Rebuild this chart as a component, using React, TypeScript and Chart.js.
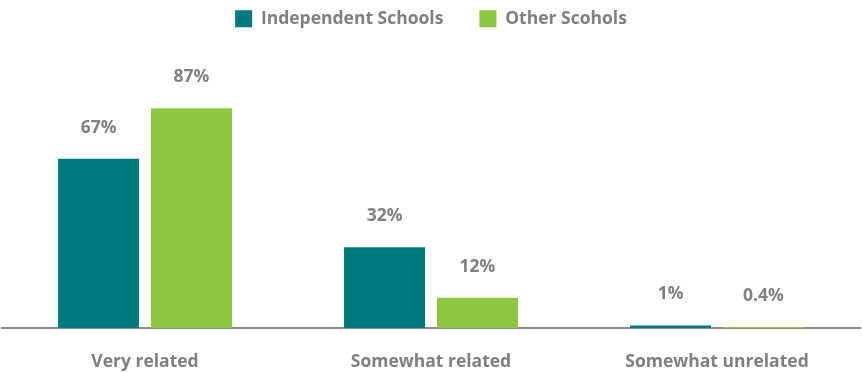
import React, { useEffect, useRef } from "react";
import { Chart, registerables } from "chart.js";

Chart.register(...registerables);

const categories = ["Very related", "Somewhat related", "Somewhat unrelated"];
const seriesNames = ["Independent Schools", "Other Scohols"];
const independentValues = [67, 32, 1];
const otherValues = [87, 12, 0.4];

const TEAL = "#007980";
const GREEN = "#8DC63F";
const GREY_TEXT = "#808080";
const AXIS_GREY = "#8C8C8C";
const FONT = "'Open Sans', Lato, sans-serif";
const FONT_SIZE = 17.5;

const dataLabelPlugin = {
  id: "dataLabels",
  afterDatasetsDraw(chart: any) {
    const { ctx } = chart;
    ctx.save();
    ctx.font = `bold ${FONT_SIZE}px ${FONT}`;
    ctx.fillStyle = GREY_TEXT;
    ctx.textAlign = "center";
    ctx.textBaseline = "middle";
    chart.data.datasets.forEach((ds: any, di: number) => {
      const meta = chart.getDatasetMeta(di);
      meta.data.forEach((bar: any, i: number) => {
        const v = ds.data[i];
        ctx.fillText(`${v}%`, bar.x, bar.y - 31);
      });
    });
    ctx.restore();
  },
};

export default function App() {
  const ref = useRef<HTMLCanvasElement>(null);
  useEffect(() => {
    if (!ref.current) return;
    const chart = new Chart(ref.current, {
      type: "bar",
      data: {
        labels: categories,
        datasets: [
          {
            label: seriesNames[0],
            data: independentValues,
            backgroundColor: TEAL,
            categoryPercentage: 0.65,
            barPercentage: 0.871,
          },
          {
            label: seriesNames[1],
            data: otherValues,
            backgroundColor: GREEN,
            categoryPercentage: 0.65,
            barPercentage: 0.871,
          },
        ],
      },
      options: {
        animation: false,
        responsive: false,
        maintainAspectRatio: false,
        layout: { padding: { top: -26, left: 2, right: 2, bottom: -24 } },
        plugins: {
          legend: {
            display: true,
            position: "top",
            labels: {
              boxWidth: 17,
              boxHeight: 17,
              padding: 36,
              color: GREY_TEXT,
              font: { family: FONT, size: FONT_SIZE, weight: "bold" },
            },
          },
          tooltip: { enabled: false },
        },
        scales: {
          x: {
            z: 1,
            grid: { display: false, drawTicks: false },
            border: { display: true, color: AXIS_GREY, width: 2 },
            ticks: {
              color: GREY_TEXT,
              padding: 24,
              font: { family: FONT, size: FONT_SIZE, weight: "bold" },
            },
          },
          y: {
            display: false,
            min: 0,
            max: 115,
          },
        },
      },
      plugins: [dataLabelPlugin],
    });
    return () => chart.destroy();
  }, []);
  return (
    <div style={{ position: "fixed", left: 0, top: 0, width: 862, height: 373, background: "#fff" }}>
      <canvas ref={ref} width={862} height={373} style={{ display: "block" }} />
    </div>
  );
}
